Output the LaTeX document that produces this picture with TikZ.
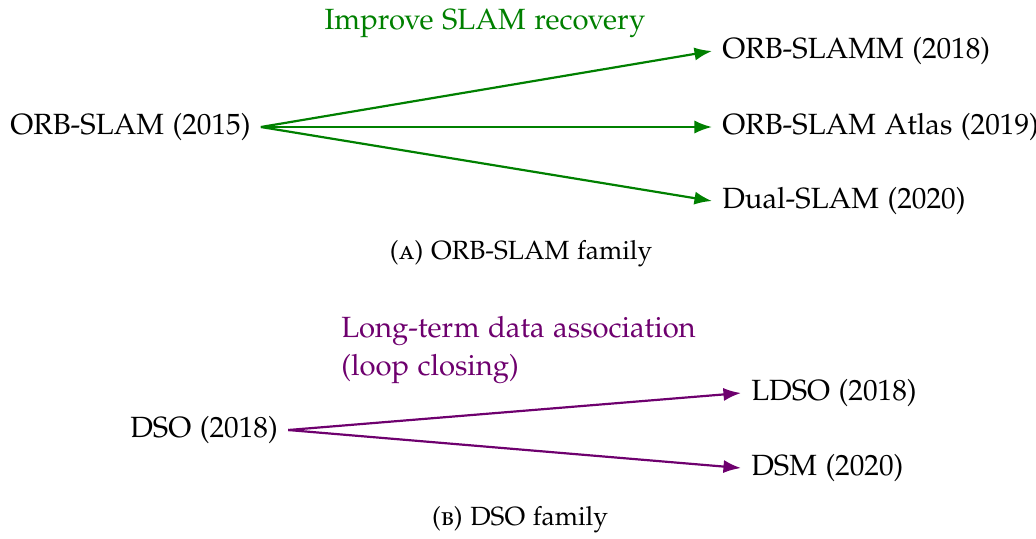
\documentclass[tikz,border=0pt]{standalone}
\usepackage[T1]{fontenc}
\usepackage[sc]{mathpazo}
\usepackage{xcolor}
\definecolor{slamgreen}{RGB}{0,128,0}
\definecolor{slampurple}{RGB}{110,0,110}
\usetikzlibrary{arrows.meta,positioning}
\tikzset{
  paper/.style={anchor=west, font=\normalsize},
  famcap/.style={font=\small},
  greenarrow/.style={-{Latex[length=6pt,width=4.5pt]}, line width=0.75pt, slamgreen},
  purplearrow/.style={-{Latex[length=6pt,width=4.5pt]}, line width=0.75pt, slampurple}
}

\begin{document}
\begin{tikzpicture}[x=0.342pt, y=-0.342pt]
  \useasboundingbox (0,0) rectangle (1036,538);

  % (a) ORB-SLAM family
  \node[paper] (orbslam) at (0,127) {ORB-SLAM (2015)};
  \node[paper] (orbslamm) at (712,51) {ORB-SLAMM (2018)};
  \node[paper] (atlas) at (712,127) {ORB-SLAM Atlas (2019)};
  \node[paper] (dualslam) at (712,201) {Dual-SLAM (2020)};
  \node[text=slamgreen] (recovery) at (485,23) {Improve SLAM recovery};

  \draw[greenarrow] (orbslam.east) -- (orbslamm.west);
  \draw[greenarrow] (orbslam.east) -- (atlas.west);
  \draw[greenarrow] (orbslam.east) -- (dualslam.west);

  \node[famcap] (capa) at (521,254) {(\textsc{a}) ORB-SLAM family};

  % (b) DSO family
  \node[paper] (dso) at (120,430) {DSO (2018)};
  \node[paper] (ldso) at (741,393) {LDSO (2018)};
  \node[paper] (dsm) at (741,468) {DSM (2020)};
  \node[text=slampurple, anchor=west, align=left] (loop) at (331,350) {Long-term data association\\[1pt](loop closing)};

  \draw[purplearrow] (dso.east) -- (ldso.west);
  \draw[purplearrow] (dso.east) -- (dsm.west);

  \node[famcap] (capb) at (520,520) {(\textsc{b}) DSO family};
\end{tikzpicture}
\end{document}
